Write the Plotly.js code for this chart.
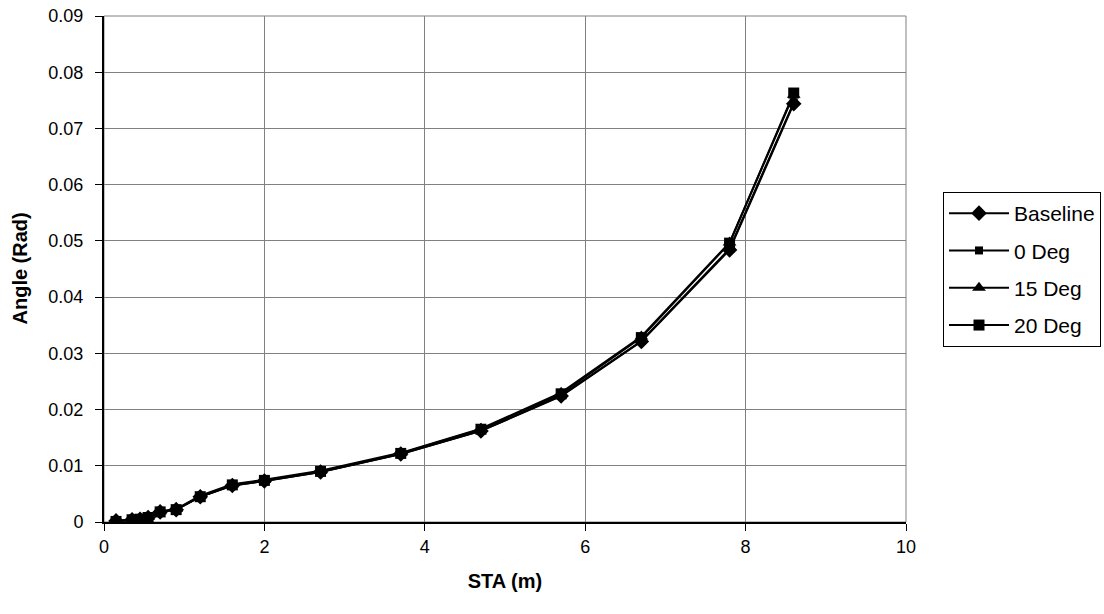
<!DOCTYPE html>
<html>
<head>
<meta charset="utf-8">
<script src="https://cdn.plot.ly/plotly-3.0.1.min.js"></script>
<style>html,body{margin:0;padding:0;background:#fff;}#chart{width:1104px;height:614px;}</style>
</head>
<body>
<div id="chart"></div>
<script>
const sta = [0.15, 0.35, 0.45, 0.55, 0.7, 0.9, 1.2, 1.6, 2.0, 2.7, 3.7, 4.7, 5.7, 6.7, 7.8, 8.6];
const baseline = [0.0002, 0.0004, 0.0005, 0.0008, 0.0018, 0.0022, 0.0045, 0.0065, 0.0073, 0.0089, 0.0121, 0.0162, 0.0224, 0.0321, 0.0484, 0.0744];
const deg0 = [0.0002, 0.0004, 0.0005, 0.0008, 0.0018, 0.0022, 0.0045, 0.0065, 0.0073, 0.0089, 0.0121, 0.0162, 0.0225, 0.0322, 0.0486, 0.0746];
const deg15 = [0.0002, 0.0005, 0.0006, 0.0009, 0.0019, 0.0023, 0.0047, 0.0067, 0.0075, 0.0091, 0.0123, 0.0166, 0.0230, 0.0330, 0.0497, 0.0760];
const deg20 = [0.0001, 0.0004, 0.0005, 0.0008, 0.0018, 0.0022, 0.0045, 0.0066, 0.0074, 0.0090, 0.0122, 0.0165, 0.0228, 0.0328, 0.0496, 0.0763];
const names = ['Baseline', '0 Deg', '15 Deg', '20 Deg'];
const yTicks = [0, 0.01, 0.02, 0.03, 0.04, 0.05, 0.06, 0.07, 0.08, 0.09];
const yTickText = ['0', '0.01', '0.02', '0.03', '0.04', '0.05', '0.06', '0.07', '0.08', '0.09'];
const xTicks = [0, 2, 4, 6, 8, 10];
const xTitle = 'STA (m)';
const yTitle = 'Angle (Rad)';

const series = [baseline, deg0, deg15, deg20];
const symbols = ['diamond', 'square', 'triangle-up', 'square'];
const sizes = [12, 8, 12, 11];

const traces = series.map((y, i) => ({
  x: sta, y: y, name: names[i], type: 'scatter', mode: 'lines+markers',
  legendgroup: 'g' + i,
  line: {color: '#000', width: 2},
  marker: {symbol: symbols[i], size: sizes[i], color: '#000', line: {width: 0}}
}));

const font = 'Liberation Sans, Arial, sans-serif';
const layout = {
  width: 1104, height: 614,
  paper_bgcolor: '#fff', plot_bgcolor: '#fff',
  margin: {l: 104, r: 198, t: 16, b: 92},
  showlegend: true,
  legend: {
    xref: 'container', yref: 'container',
    x: 943 / 1104, y: 1 - 192 / 614, xanchor: 'left', yanchor: 'top',
    bordercolor: '#000', borderwidth: 1, bgcolor: '#fff',
    font: {family: font, size: 21, color: '#000'},
    tracegroupgap: 7, itemwidth: 60
  },
  xaxis: {
    range: [0, 10], tickvals: xTicks, ticktext: xTicks.map(String),
    showgrid: true, gridcolor: '#808080', gridwidth: 1,
    showline: true, linecolor: '#000', linewidth: 2,
    ticks: 'outside', ticklen: 7, tickcolor: '#000', tickwidth: 1,
    zeroline: false,
    tickfont: {family: font, size: 18, color: '#000'},
    title: {text: '<b>' + xTitle + '</b>', font: {family: font, size: 20, color: '#000'}, standoff: 18}
  },
  yaxis: {
    range: [0, 0.09], tickvals: yTicks, ticktext: yTickText,
    showgrid: true, gridcolor: '#808080', gridwidth: 1,
    showline: true, linecolor: '#000', linewidth: 2,
    ticks: 'outside', ticklen: 7, tickcolor: '#000', tickwidth: 1,
    ticklabelstandoff: 8,
    zeroline: false,
    tickfont: {family: font, size: 18, color: '#000'}
  },
  annotations: [{
    text: '<b>' + yTitle + '</b>', xref: 'paper', yref: 'paper',
    x: (19.5 - 104) / 802, y: 0.5, xanchor: 'center', yanchor: 'middle',
    textangle: -90, showarrow: false,
    font: {family: font, size: 20, color: '#000'}
  }],
  shapes: [{type: 'rect', xref: 'paper', yref: 'paper', x0: 0, x1: 1, y0: 0, y1: 1,
    line: {color: '#808080', width: 1}, layer: 'below'}]
};
Plotly.newPlot('chart', traces, layout, {displayModeBar: false, staticPlot: true});
</script>
</body>
</html>
